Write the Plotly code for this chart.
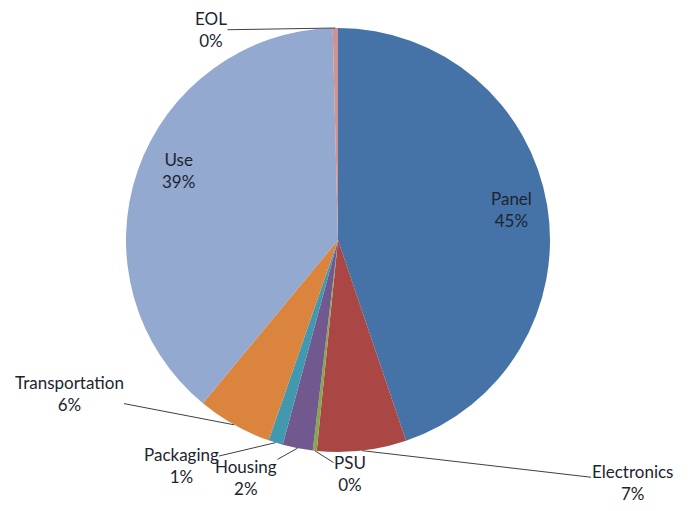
import math
import plotly.graph_objects as go

# ---- data ----
labels = ["Panel", "Electronics", "PSU", "Housing", "Packaging", "Transportation", "Use", "EOL"]
values = [44.8, 6.8, 0.3, 2.3, 1.1, 5.7, 38.6, 0.4]
colors = ["#4572A7", "#AA4643", "#89A54E", "#71588F", "#4198AF", "#DB843D", "#93A9CF", "#D19392"]

# ---- layout geometry (window pixels) ----
WIN_W, WIN_H = 690, 511
OFF = 8  # default page body margin
W, H = WIN_W - 2 * OFF, WIN_H - 2 * OFF
CX, CY, R = 338 - OFF, 240 - OFF, 212

# label text centres (window pixels) and whether a leader line is drawn
label_pos = {
    "Panel": (512, 210, False),
    "Use": (178, 170, False),
    "Electronics": (632, 482, True),
    "PSU": (350, 473, True),
    "Housing": (246, 477, True),
    "Packaging": (181, 465, True),
    "Transportation": (69, 393, True),
    "EOL": (211, 30, True),
}

fig = go.Figure(go.Pie(
    labels=labels,
    values=values,
    sort=False,
    direction="clockwise",
    rotation=0,
    marker=dict(colors=colors, line=dict(width=0)),
    textinfo="none",
    hoverinfo="label+percent",
    showlegend=False,
    domain=dict(x=[(CX - R) / W, (CX + R) / W], y=[1 - (CY + R) / H, 1 - (CY - R) / H]),
))

total = sum(values)
annotations = []
cum = 0.0
font = dict(family="Lato, Open Sans, sans-serif", size=17, color="#1c2430")
for lab, v in zip(labels, values):
    mid = (cum + v / 2) / total * 2 * math.pi
    cum += v
    pct = f"{round(v / total * 100):.0f}%"
    txt = f"{lab}<br>{pct}"
    tx, ty, line = label_pos[lab]
    tx, ty = tx - OFF, ty - OFF
    if not line:
        annotations.append(dict(x=tx / W, y=1 - ty / H, xref="paper", yref="paper",
                                xanchor="center", yanchor="middle", borderpad=0,
                                text=txt, showarrow=False, font=font, align="center"))
    else:
        px = CX + R * math.sin(mid)
        py = CY - R * math.cos(mid)
        annotations.append(dict(x=px / W, y=1 - py / H, xref="paper", yref="paper",
                                text=txt, showarrow=True, arrowhead=0, arrowwidth=1,
                                arrowcolor="#404040", standoff=0, borderpad=0,
                                ax=tx - px, ay=ty - py, font=font, align="center"))

fig.update_layout(
    width=W, height=H,
    margin=dict(l=0, r=0, t=0, b=0),
    paper_bgcolor="white",
    plot_bgcolor="white",
    annotations=annotations,
)

fig.write_html("out.html")
